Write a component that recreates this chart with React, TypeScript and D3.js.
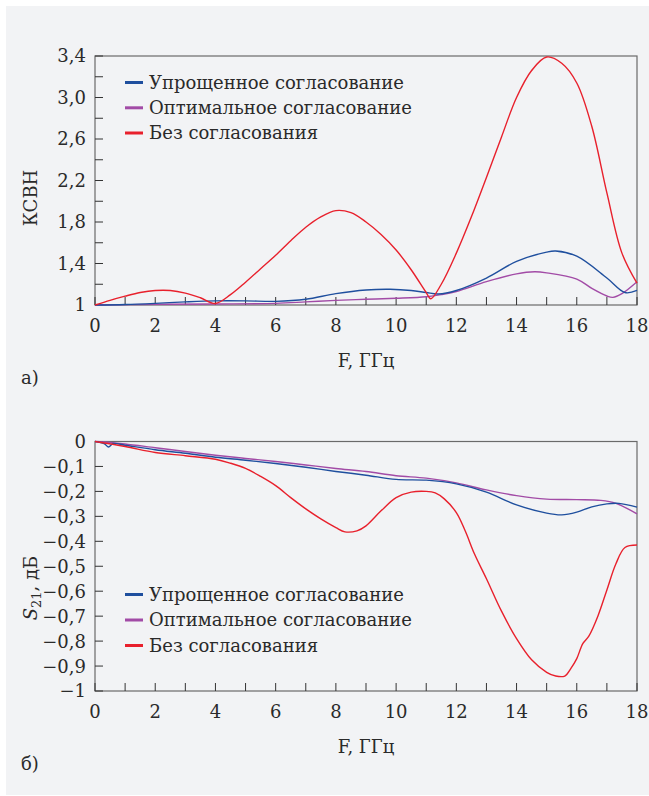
import React from "react";
import * as d3 from "d3";

// ---------- DATA ----------
const freqTicks = [0, 2, 4, 6, 8, 10, 12, 14, 16, 18];
const freqMinorTicks = d3.range(0, 19, 1);

const vswrTickValues = [1, 1.4, 1.8, 2.2, 2.6, 3.0, 3.4];
const vswrTickLabels = ["1", "1,4", "1,8", "2,2", "2,6", "3,0", "3,4"];
const vswrMinorTicks = [1.2, 1.4, 1.6, 1.8, 2.0, 2.2, 2.4, 2.6, 2.8, 3.0, 3.2, 3.4];

const s21TickValues = [0, -0.1, -0.2, -0.3, -0.4, -0.5, -0.6, -0.7, -0.8, -0.9, -1];
const s21TickLabels = ["0", "−0,1", "−0,2", "−0,3", "−0,4", "−0,5", "−0,6", "−0,7", "−0,8", "−0,9", "−1"];

const seriesNames = ["Упрощенное согласование", "Оптимальное согласование", "Без согласования"];
const seriesColors = ["#1f4f9e", "#a24ba6", "#e8202c"];

// VSWR (a)
const vswrSimpleF = [0, 1, 2, 3, 4, 5, 6, 7, 8, 9, 9.8, 10.5, 11, 11.4, 12, 13, 14, 15, 15.3, 16, 17, 17.6, 18];
const vswrSimple = [1.0, 1.005, 1.016, 1.03, 1.04, 1.04, 1.035, 1.055, 1.11, 1.145, 1.152, 1.14, 1.12, 1.106, 1.14, 1.26, 1.42, 1.51, 1.52, 1.47, 1.26, 1.12, 1.14];

const vswrOptimalF = [0, 2, 4, 6, 7, 8, 9, 10, 11, 11.5, 12, 13, 14, 14.6, 15, 16, 16.5, 17, 17.2, 17.5, 18];
const vswrOptimal = [1.0, 1.006, 1.01, 1.016, 1.03, 1.045, 1.055, 1.065, 1.08, 1.1, 1.13, 1.225, 1.3, 1.32, 1.31, 1.25, 1.16, 1.087, 1.074, 1.11, 1.225];

const vswrNoMatchF = [0, 0.5, 1, 1.5, 2, 2.5, 3, 3.5, 4, 4.5, 5, 5.5, 6, 6.5, 7, 7.5, 8, 8.5, 9, 9.5, 10, 10.5, 11, 11.15, 11.5, 12, 12.5, 13, 13.5, 14, 14.5, 15, 15.5, 16, 16.5, 17, 17.5, 18];
const vswrNoMatch = [1.0, 1.045, 1.085, 1.12, 1.14, 1.14, 1.115, 1.07, 1.015, 1.1, 1.22, 1.35, 1.48, 1.62, 1.75, 1.85, 1.91, 1.89, 1.8, 1.68, 1.53, 1.34, 1.12, 1.06, 1.2, 1.5, 1.85, 2.23, 2.62, 3.0, 3.26, 3.39, 3.33, 3.14, 2.72, 2.08, 1.5, 1.21];

// S21 (б)
const s21SimpleF = [0, 0.3, 0.45, 0.6, 1, 2, 3, 4, 5, 6, 7, 8, 9, 10, 11, 12, 13, 14, 15, 15.5, 16, 16.5, 17, 17.4, 18];
const s21Simple = [0, -0.008, -0.022, -0.008, -0.015, -0.033, -0.047, -0.063, -0.075, -0.088, -0.103, -0.12, -0.135, -0.152, -0.155, -0.17, -0.203, -0.254, -0.287, -0.294, -0.283, -0.262, -0.25, -0.248, -0.263];

const s21OptimalF = [0, 0.5, 1, 2, 3, 4, 5, 6, 7, 8, 9, 10, 11, 12, 13, 14, 15, 16, 16.8, 17.3, 18];
const s21Optimal = [0, -0.004, -0.01, -0.025, -0.04, -0.055, -0.068, -0.08, -0.094, -0.108, -0.12, -0.137, -0.147, -0.166, -0.194, -0.217, -0.231, -0.233, -0.236, -0.248, -0.29];

const s21NoMatchF = [0, 1, 2, 3, 4, 4.5, 5, 5.5, 6, 6.5, 7, 7.5, 8, 8.3, 8.7, 9, 9.5, 10, 10.5, 11, 11.3, 11.6, 12, 12.3, 12.6, 13, 13.5, 14, 14.5, 15, 15.3, 15.6, 15.8, 16, 16.2, 16.4, 16.7, 17, 17.3, 17.6, 18];
const s21NoMatch = [0, -0.02, -0.044, -0.057, -0.071, -0.087, -0.108, -0.14, -0.177, -0.225, -0.27, -0.31, -0.345, -0.362, -0.358, -0.338, -0.278, -0.225, -0.203, -0.2, -0.206, -0.23, -0.285, -0.36, -0.45, -0.55, -0.68, -0.79, -0.875, -0.925, -0.94, -0.94, -0.91, -0.87, -0.81, -0.78, -0.7, -0.595, -0.49, -0.425, -0.415];

// ---------- LAYOUT ----------
const W = 649;
const H = 796;
const FONT = "'DejaVu Serif', serif";
const TEXT = "#2a2a2a";
const PLOT_L = 95;
const PLOT_R = 637;

type Series = { f: number[]; v: number[]; color: string };

function Panel(props: {
  top: number;
  bottom: number;
  domain: [number, number];
  tickValues: number[];
  tickLabels: string[];
  minorTicks: number[];
  series: Series[];
  legendY: number[];
  yLabel: React.ReactNode;
  yLabelY: number;
  letter: string;
  letterY: number;
}) {
  const x = d3.scaleLinear().domain([0, 18]).range([PLOT_L, PLOT_R]);
  const y = d3.scaleLinear().domain(props.domain).range([props.bottom, props.top]);
  const line = (s: Series) =>
    d3
      .line<number>()
      .x((_, i) => x(s.f[i]))
      .y((d) => y(d))
      .curve(d3.curveCatmullRom.alpha(0.5))(s.v) || "";
  const tickLen = 8;
  return (
    <g>
      <rect x={PLOT_L} y={props.top} width={PLOT_R - PLOT_L} height={props.bottom - props.top} fill="none" stroke="#6a6a6a" strokeWidth={1.2} />
      {props.minorTicks.map((t) => (
        <line key={"yt" + t} x1={PLOT_L} x2={PLOT_L + tickLen} y1={y(t)} y2={y(t)} stroke="#333" strokeWidth={1} />
      ))}
      {freqMinorTicks.map((t) => (
        <line key={"xt" + t} x1={x(t)} x2={x(t)} y1={props.bottom} y2={props.bottom - tickLen} stroke="#333" strokeWidth={1} />
      ))}
      {props.tickValues.map((t, i) => (
        <text key={"yl" + i} x={PLOT_L - 9} y={y(t)} dy="0.36em" textAnchor="end" fontFamily={FONT} fontSize={18} fill={TEXT}>
          {props.tickLabels[i]}
        </text>
      ))}
      {freqTicks.map((t) => (
        <text key={"xl" + t} x={x(t)} y={props.bottom + 27} textAnchor="middle" fontFamily={FONT} fontSize={18} fill={TEXT}>
          {t}
        </text>
      ))}
      <g clipPath="none">
        {props.series.map((s, i) => (
          <path key={"s" + i} d={line(s)} fill="none" stroke={s.color} strokeWidth={1.4} strokeLinejoin="round" />
        ))}
      </g>
      {seriesNames.map((n, i) => (
        <g key={"lg" + i}>
          <line x1={125} x2={143} y1={props.legendY[i]} y2={props.legendY[i]} stroke={seriesColors[i]} strokeWidth={3} />
          <text x={149} y={props.legendY[i]} dy="0.36em" fontFamily={FONT} fontSize={18} fill={TEXT}>
            {n}
          </text>
        </g>
      ))}
      <text x={(PLOT_L + PLOT_R) / 2} y={props.bottom + 62} textAnchor="middle" fontFamily={FONT} fontSize={18} fill={TEXT}>
        F, ГГц
      </text>
      <text transform={`translate(37,${props.yLabelY}) rotate(-90)`} textAnchor="middle" fontFamily={FONT} fontSize={18} fill={TEXT}>
        {props.yLabel}
      </text>
      <text x={21} y={props.letterY} fontFamily={FONT} fontSize={18} fill={TEXT}>
        {props.letter}
      </text>
    </g>
  );
}

export default function App() {
  const topSeries: Series[] = [
    { f: vswrOptimalF, v: vswrOptimal, color: seriesColors[1] },
    { f: vswrSimpleF, v: vswrSimple, color: seriesColors[0] },
    { f: vswrNoMatchF, v: vswrNoMatch, color: seriesColors[2] },
  ];
  const bottomSeries: Series[] = [
    { f: s21OptimalF, v: s21Optimal, color: seriesColors[1] },
    { f: s21SimpleF, v: s21Simple, color: seriesColors[0] },
    { f: s21NoMatchF, v: s21NoMatch, color: seriesColors[2] },
  ];
  return (
    <svg width={W} height={H} style={{ position: "absolute", left: 0, top: 0, display: "block" }}>
      <rect x={0} y={0} width={W} height={H} fill="#ffffff" />
      <rect x={6} y={6} width={W - 6} height={H - 7} fill="#f2f3f5" />
      <Panel
        top={56}
        bottom={305}
        domain={[1, 3.4]}
        tickValues={vswrTickValues}
        tickLabels={vswrTickLabels}
        minorTicks={vswrMinorTicks}
        series={topSeries}
        legendY={[82.5, 107.8, 133]}
        yLabel="КСВН"
        yLabelY={198}
        letter="а)"
        letterY={384}
      />
      <Panel
        top={441.5}
        bottom={691}
        domain={[-1, 0]}
        tickValues={s21TickValues}
        tickLabels={s21TickLabels}
        minorTicks={s21TickValues}
        series={bottomSeries}
        legendY={[594.5, 620, 645.5]}
        yLabel={
          <>
            <tspan fontStyle="italic">S</tspan>
            <tspan fontSize={13} dy="4">21</tspan>
            <tspan dy="-4">, дБ</tspan>
          </>
        }
        yLabelY={588}
        letter="б)"
        letterY={770}
      />
    </svg>
  );
}
